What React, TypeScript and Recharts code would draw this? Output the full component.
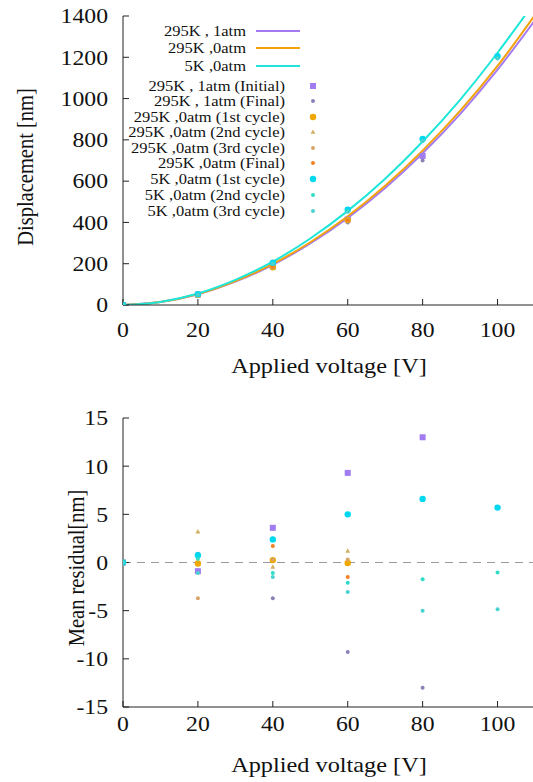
import React from "react";
import { ComposedChart, Line, Scatter, XAxis, YAxis, ReferenceLine } from "recharts";

const FONT = "'Liberation Serif', 'Times New Roman', serif";

// axes
const voltageTicks = [0, 20, 40, 60, 80, 100];
const dispTicks = [0, 200, 400, 600, 800, 1000, 1200, 1400];
const residTicks = [-15, -10, -5, 0, 5, 10, 15];

// fitted curves (every 10 V)
const fitVoltage = [0, 10, 20, 30, 40, 50, 60, 70, 80, 90, 100, 110];
const fit295K1atm = [0, 14, 52, 113, 195, 298, 422, 567, 735, 925, 1140, 1380];
const fit295K0atm = [0, 14, 53, 116, 199, 304, 430, 578, 748, 940, 1158, 1405];
const fit5K0atm = [0, 15, 56, 122, 210, 322, 456, 612, 792, 994, 1222, 1470];

// measured points
const measVoltage = [0, 20, 40, 60, 80, 100];
const disp295K1atmInitial = [0, 50, 186, 414, 722];
const disp295K1atmFinal = [0, 49, 180, 400, 700];
const disp295K0atm1st = [0, 50, 183, 412];
const disp295K0atm2nd = [0, 53, 182, 414];
const disp295K0atm3rd = [0, 46, 183, 412];
const disp295K0atmFinal = [0, 50, 185, 410];
const disp5K0atm1st = [0, 52, 205, 462, 805, 1205];
const disp5K0atm2nd = [0, 51, 201, 454, 797, 1198];
const disp5K0atm3rd = [0, 50, 200, 452, 793, 1194];

// residuals
const res295K1atmInitial = [0, -0.9, 3.6, 9.3, 13.0];
const res295K1atmFinal = [0, 0.9, -3.7, -9.3, -13.0];
const res295K0atm1st = [0, -0.1, 0.25, -0.05];
const res295K0atm2nd = [0, 3.2, -0.45, 1.2];
const res295K0atm3rd = [0, -3.7, 0.3, 0.3];
const res295K0atmFinal = [0, 0.6, 1.7, -1.5];
const res5K0atm1st = [0, 0.75, 2.4, 5.0, 6.6, 5.7];
const res5K0atm2nd = [0, 0.4, -1.1, -2.1, -1.75, -1.05];
const res5K0atm3rd = [0, -1.1, -1.5, -3.05, -5.0, -4.85];

const lineNames = ["295K , 1atm", "295K ,0atm", "5K ,0atm"];
const lineColors = ["#a57af0", "#f2a20c", "#1ee6d8"];

const pointNames = [
  "295K , 1atm (Initial)",
  "295K , 1atm (Final)",
  "295K ,0atm (1st cycle)",
  "295K ,0atm (2nd cycle)",
  "295K ,0atm (3rd cycle)",
  "295K ,0atm (Final)",
  "5K ,0atm (1st cycle)",
  "5K ,0atm (2nd cycle)",
  "5K ,0atm (3rd cycle)",
];
const pointColors = ["#a07cf0", "#8c80b8", "#f0a800", "#d0b060", "#d8a468", "#f58020", "#00d8f0", "#30dcc8", "#48d2d0"];
const pointKinds = ["square", "small", "circle", "triangle", "small", "small", "circle", "small", "small"];

const zip = (xs: number[], ys: number[]) => ys.map((y, i) => ({ x: xs[i], y }));

const dispSeries = [
  disp295K1atmInitial, disp295K1atmFinal, disp295K0atm1st, disp295K0atm2nd, disp295K0atm3rd,
  disp295K0atmFinal, disp5K0atm1st, disp5K0atm2nd, disp5K0atm3rd,
];
const residSeries = [
  res295K1atmInitial, res295K1atmFinal, res295K0atm1st, res295K0atm2nd, res295K0atm3rd,
  res295K0atmFinal, res5K0atm1st, res5K0atm2nd, res5K0atm3rd,
];
const fitSeries = [fit295K1atm, fit295K0atm, fit5K0atm];

const Marker = ({ cx, cy, kind, color }: any) => {
  if (cx == null || cy == null) return null;
  if (kind === "square") return <rect x={cx - 3} y={cy - 3} width={6} height={6} fill={color} />;
  if (kind === "circle") return <circle cx={cx} cy={cy} r={3.2} fill={color} />;
  if (kind === "triangle")
    return <polygon points={`${cx},${cy - 2.6} ${cx - 2.4},${cy + 1.8} ${cx + 2.4},${cy + 1.8}`} fill={color} />;
  return <circle cx={cx} cy={cy} r={2} fill={color} />;
};

// gnuplot-ish wide serif tick labels
const Tick = ({ x, y, payload, textAnchor, side }: any) => (
  <g transform={`translate(${x},${y})`}>
    <text
      transform="scale(1.13,1)"
      textAnchor={textAnchor}
      dy={side === "bottom" ? "0.71em" : "0.35em"}
      fill="#111"
      fontSize={21}
      fontFamily={FONT}
    >
      {payload.value}
    </text>
  </g>
);

const axisLine = { stroke: "#222", strokeWidth: 1 };

const frameAxes = (xDomain: number[], yDomain: number[], xTicks: number[], yTicks: number[]) => [
  <XAxis key="xt" xAxisId="top" orientation="top" type="number" domain={xDomain} ticks={xTicks}
    allowDataOverflow height={0} tick={false} tickSize={-6} axisLine={axisLine} tickLine={axisLine} />,
  <YAxis key="yr" yAxisId="right" orientation="right" type="number" domain={yDomain} ticks={yTicks}
    allowDataOverflow width={0} tick={false} tickSize={-6} axisLine={axisLine} tickLine={axisLine} />,
];

const Title = ({ text, left, top, rotate }: any) => (
  <div
    style={{
      position: "absolute",
      left,
      top,
      transform: rotate
        ? "translate(-50%, -50%) rotate(-90deg) scaleY(1.12)"
        : "translate(-50%, -50%) scaleX(1.13)",
      fontFamily: FONT,
      fontSize: rotate ? 20.5 : 21.5,
      color: "#111",
      whiteSpace: "nowrap",
      lineHeight: 1,
    }}
  >
    {text}
  </div>
);

const legendText = (text: string, right: number, y: number, key: string) => (
  <div
    key={key}
    style={{
      position: "absolute",
      left: 0,
      width: right,
      top: y - 9,
      textAlign: "right",
      fontFamily: FONT,
      fontSize: 15,
      lineHeight: "18px",
      color: "#111",
      whiteSpace: "nowrap",
      transform: "scaleX(1.1)",
      transformOrigin: `${right}px 50%`,
    }}
  >
    {text}
  </div>
);

const lineRowsY = [31, 48, 66];
const pointRowsY = [86, 101, 117, 132, 148, 163, 179, 195, 211];

const App: React.FC = () => {
  return (
    <div style={{ position: "absolute", left: 0, top: 0, width: 533, height: 782, overflow: "hidden", background: "#fff" }}>
      {/* displacement */}
      <div style={{ position: "absolute", left: 0, top: 0 }}>
        <ComposedChart width={545} height={400} margin={{ top: 16, right: 10, left: 63, bottom: 20 }}>
          <XAxis dataKey="x" type="number" domain={[0, 110]} ticks={voltageTicks} allowDataOverflow height={75}
            tickSize={-6} tickMargin={23} tick={<Tick side="bottom" />} axisLine={axisLine} tickLine={axisLine} />
          <YAxis dataKey="y" type="number" domain={[0, 1400]} ticks={dispTicks} allowDataOverflow width={60}
            tickSize={-6} tickMargin={21} tick={<Tick side="left" />} axisLine={axisLine} tickLine={axisLine} />
          {frameAxes([0, 110], [0, 1400], voltageTicks, dispTicks)}
          {fitSeries.map((s, i) => (
            <Line key={"f" + i} data={zip(fitVoltage, s)} dataKey="y" type="monotone" stroke={lineColors[i]}
              strokeWidth={2} dot={false} isAnimationActive={false} />
          ))}
          {dispSeries.map((s, i) => (
            <Scatter key={"d" + i} data={zip(measVoltage, s)} isAnimationActive={false}
              shape={(p: any) => <Marker cx={p.cx} cy={p.cy} kind={pointKinds[i]} color={pointColors[i]} />} />
          ))}
        </ComposedChart>
      </div>
      {lineNames.map((n, i) => legendText(n, 246, lineRowsY[i], "ln" + i))}
      <svg style={{ position: "absolute", left: 0, top: 0 }} width={533} height={230}>
        {lineNames.map((n, i) => (
          <line key={n} x1={256} x2={300} y1={lineRowsY[i]} y2={lineRowsY[i]} stroke={lineColors[i]} strokeWidth={2} />
        ))}
        {pointNames.map((n, i) => (
          <Marker key={n} cx={313} cy={pointRowsY[i]} kind={pointKinds[i]} color={pointColors[i]} />
        ))}
      </svg>
      {pointNames.map((n, i) => legendText(n, 285, pointRowsY[i], "pn" + i))}
      <Title text="Displacement [nm]" left={25} top={167} rotate />
      <Title text="Applied voltage [V]" left={329} top={367} />

      {/* residuals */}
      <div style={{ position: "absolute", left: 0, top: 400 }}>
        <ComposedChart width={545} height={382} margin={{ top: 18, right: 10, left: 63, bottom: 5 }}>
          <XAxis dataKey="x" type="number" domain={[0, 110]} ticks={voltageTicks} allowDataOverflow height={70}
            tickSize={-6} tickMargin={15} tick={<Tick side="bottom" />} axisLine={axisLine} tickLine={axisLine} />
          <YAxis dataKey="y" type="number" domain={[-15, 15]} ticks={residTicks} allowDataOverflow width={60}
            tickSize={-6} tickMargin={21} tick={<Tick side="left" />} axisLine={axisLine} tickLine={axisLine} />
          {frameAxes([0, 110], [-15, 15], voltageTicks, residTicks)}
          <ReferenceLine y={0} stroke="#9a9a9a" strokeWidth={1} strokeDasharray="8 6" />
          {residSeries.map((s, i) => (
            <Scatter key={"r" + i} data={zip(measVoltage, s)} isAnimationActive={false}
              shape={(p: any) => <Marker cx={p.cx} cy={p.cy} kind={pointKinds[i]} color={pointColors[i]} />} />
          ))}
        </ComposedChart>
      </div>
      <Title text="Mean residual[nm]" left={76} top={568} rotate />
      <Title text="Applied voltage [V]" left={329} top={766} />
    </div>
  );
};

export default App;
